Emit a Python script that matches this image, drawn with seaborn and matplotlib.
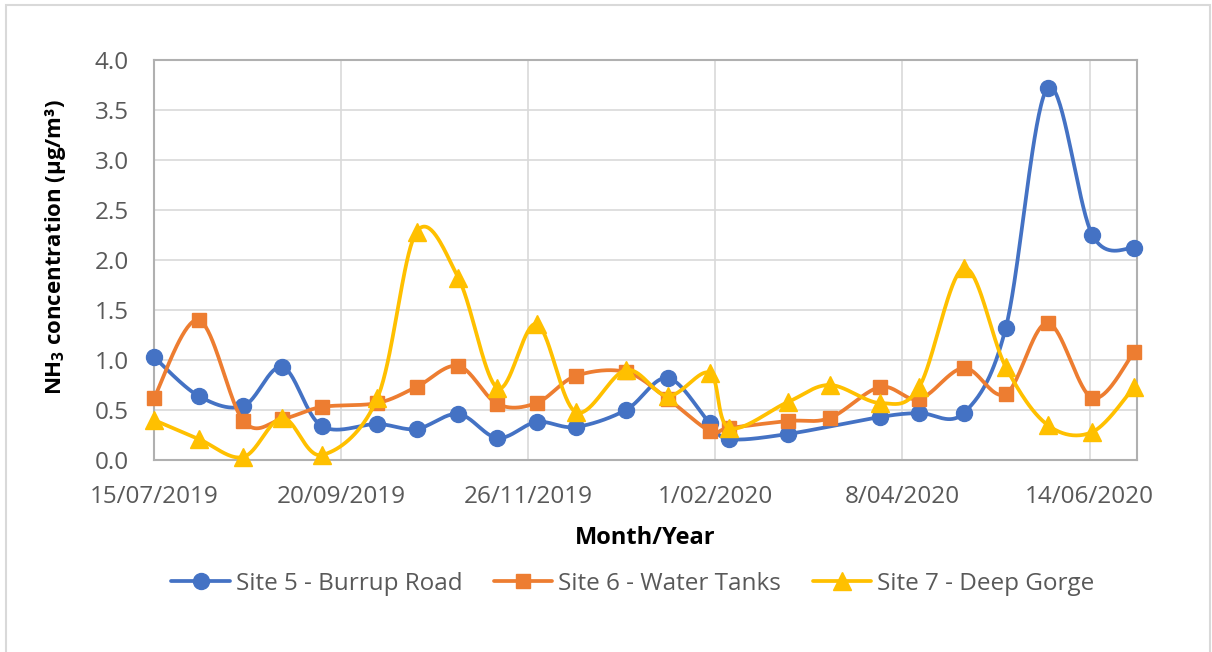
import numpy as np
import pandas as pd
import matplotlib
matplotlib.use('Agg')
import matplotlib.pyplot as plt
import seaborn as sns
from matplotlib.lines import Line2D
from matplotlib.patches import Rectangle

# sampling dates (dd/mm/yyyy)
dates = ['15/07/2019', '31/07/2019', '16/08/2019', '30/08/2019', '13/09/2019', '3/10/2019',
         '17/10/2019', '1/11/2019', '15/11/2019', '29/11/2019', '13/12/2019', '31/12/2019',
         '15/01/2020', '30/01/2020', '6/02/2020', '27/02/2020', '13/03/2020', '31/03/2020',
         '14/04/2020', '30/04/2020', '15/05/2020', '30/05/2020', '15/06/2020', '30/06/2020']

site5 = [1.03, 0.64, 0.54, 0.93, 0.34, 0.36, 0.31, 0.46, 0.22, 0.38, 0.33, 0.50,
         0.82, 0.37, 0.21, 0.26, np.nan, 0.43, 0.47, 0.47, 1.32, 3.72, 2.25, 2.12]
site6 = [0.62, 1.40, 0.39, 0.41, 0.53, 0.57, 0.73, 0.94, 0.56, 0.57, 0.84, 0.88,
         0.61, 0.29, 0.32, 0.39, 0.42, 0.73, 0.61, 0.92, 0.66, 1.37, 0.62, 1.08]
site7 = [0.40, 0.21, 0.03, 0.42, 0.05, 0.62, 2.28, 1.82, 0.72, 1.36, 0.48, 0.90,
         0.64, 0.87, 0.32, 0.58, 0.75, 0.57, 0.73, 1.92, 0.93, 0.35, 0.28, 0.73]

series_names = ['Site 5 - Burrup Road', 'Site 6 - Water Tanks', 'Site 7 - Deep Gorge']
colors = ['#4472C4', '#ED7D31', '#FFC000']
markers = ['o', 's', '^']
msizes = [11.5, 10, 12.5]

tick_labels = ['15/07/2019', '20/09/2019', '26/11/2019', '1/02/2020', '8/04/2020', '14/06/2020']
yticks = [0.0, 0.5, 1.0, 1.5, 2.0, 2.5, 3.0, 3.5, 4.0]

df = pd.DataFrame({'date': pd.to_datetime(dates, dayfirst=True),
                   series_names[0]: site5, series_names[1]: site6, series_names[2]: site7})


def smooth(x, y, n=40):
    # Excel-like smoothed line (Catmull-Rom as cubic Bezier)
    p = np.column_stack([x, y])
    pts = np.vstack([p[0], p, p[-1]])
    t = np.linspace(0, 1, n)[:, None]
    out = []
    for i in range(1, len(pts) - 2):
        p0, p1, p2, p3 = pts[i - 1], pts[i], pts[i + 1], pts[i + 2]
        c1 = p1 + (p2 - p0) / 6
        c2 = p2 - (p3 - p1) / 6
        seg = (1 - t) ** 3 * p1 + 3 * (1 - t) ** 2 * t * c1 + 3 * (1 - t) * t ** 2 * c2 + t ** 3 * p2
        out.append(seg if i == 1 else seg[1:])
    return np.vstack(out)


sns.set_style('white')
plt.rcParams['font.family'] = ['Open Sans', 'DejaVu Sans']
plt.rcParams['mathtext.fontset'] = 'custom'
plt.rcParams['mathtext.rm'] = 'Open Sans'
plt.rcParams['mathtext.bf'] = 'Open Sans:bold'

fig = plt.figure(figsize=(12.12, 6.52), dpi=100)
ax = fig.add_axes([154 / 1212, 1 - 460 / 652, (1137 - 154) / 1212, 400 / 652])

for k, name in enumerate(series_names):
    d = df[['date', name]].dropna()
    days = (d['date'] - pd.Timestamp('1970-01-01')).dt.days.values.astype(float)
    curve = smooth(days, d[name].values)
    cdf = pd.DataFrame({'date': pd.to_datetime(curve[:, 0], unit='D'), 'value': curve[:, 1]})
    sns.lineplot(data=cdf, x='date', y='value', sort=False, estimator=None, color=colors[k],
                 lw=2.7, ax=ax, zorder=3 + 2 * k, clip_on=False)
    ax.plot(d['date'], d[name], ls='none', marker=markers[k], ms=msizes[k],
            color=colors[k], mec=colors[k], zorder=4 + 2 * k, clip_on=False)

tick_dates = pd.to_datetime(tick_labels, dayfirst=True)
ax.set_xticks(tick_dates)
ax.set_xticklabels(tick_labels)
ax.set_xlim(pd.Timestamp('2019-07-15'), pd.Timestamp('2020-07-01'))
ax.set_yticks(yticks)
ax.set_yticklabels([f'{v:.1f}' for v in yticks])
ax.set_ylim(0, 4.0)

ax.grid(True, color='#D9D9D9', lw=1.2)
ax.set_axisbelow(True)
for s in ax.spines.values():
    s.set_color('#B0B0B0')
    s.set_linewidth(1.5)
ax.tick_params(axis='x', length=4, color='#D9D9D9', width=1.2, pad=14, labelsize=17.5, labelcolor='#595959')
ax.tick_params(axis='y', length=0, pad=18, labelsize=17.5, labelcolor='#595959')

ax.set_xlabel('Month/Year', fontsize=17, fontweight='bold', color='black')
ax.xaxis.set_label_coords(0.5, -0.165)
ax.set_ylabel('')
fig.text(55 / 1212, 1 - 247 / 652, r'NH$_\mathbf{3}$ concentration (µg/m³)', rotation=90,
         ha='center', va='center', fontsize=16, fontweight='bold', color='black')

handles = [Line2D([], [], color=colors[k], lw=2.7, marker=markers[k], ms=msizes[k], mec=colors[k])
           for k in range(3)]
fig.legend(handles, series_names, loc='center', bbox_to_anchor=(633 / 1212, 1 - 584 / 652),
           ncol=3, frameon=False, fontsize=17.5, handlelength=2.4, handletextpad=0.25,
           columnspacing=1.3, labelcolor='#595959')

fig.patches.append(Rectangle((6 / 1212, -0.05), (1210 - 6) / 1212, 1.05 - 5 / 652,
                             transform=fig.transFigure, fill=False, edgecolor='#D9D9D9', lw=1.5))

fig.savefig('out.png', dpi=100)
